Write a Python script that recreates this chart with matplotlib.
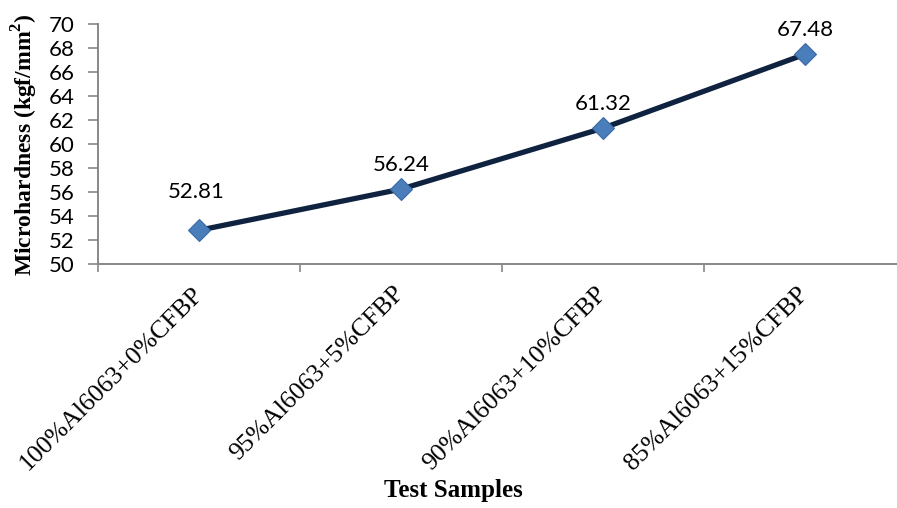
import matplotlib
matplotlib.use('Agg')  # headless backend
import matplotlib.pyplot as plt
from matplotlib.ticker import FixedLocator, NullFormatter

samples = ["100%Al6063+0%CFBP", "95%Al6063+5%CFBP",
           "90%Al6063+10%CFBP", "85%Al6063+15%CFBP"]
hardness = [52.81, 56.24, 61.32, 67.48]
y_ticks = list(range(50, 71, 2))

# per-point offset of the value labels (pixels)
label_offsets = [(-3, 38), (0, 24), (0, 24), (0, 24)]

plt.rcParams["mathtext.fontset"] = "custom"
plt.rcParams["mathtext.rm"] = "Liberation Serif:bold"
plt.rcParams["mathtext.bf"] = "Liberation Serif:bold"

fig = plt.figure(figsize=(8.97, 5.08), dpi=100)
ax = fig.add_axes([0.1093, 0.4803, 0.9008, 0.4725])

x = list(range(len(samples)))
ax.plot(x, hardness, color="#0f2240", lw=3.8, marker="D", markersize=11,
        markerfacecolor="#4a7ebb", markeredgecolor="#3a6aa5", markeredgewidth=0.8,
        solid_capstyle="round", zorder=3)

for xi, v, off in zip(x, hardness, label_offsets):
    ax.annotate(f"{v:.2f}", (xi, v), xytext=off, textcoords="offset pixels",
                ha="center", va="center", fontsize=16, family="Lato")

ax.set_xlim(-0.5, len(samples) - 0.5)
ax.set_ylim(50, 70)
ax.set_yticks(y_ticks)
ax.tick_params(axis="y", labelsize=16, length=7, width=1.2, color="#888888", pad=10)
for t in ax.get_yticklabels():
    t.set_family("Lato")

# boundary ticks on the category axis, labels at the centres
ax.xaxis.set_major_locator(FixedLocator([i - 0.5 for i in range(len(samples) + 1)]))
ax.xaxis.set_major_formatter(NullFormatter())
ax.xaxis.set_minor_locator(FixedLocator(x))
ax.set_xticklabels(samples, minor=True, rotation=45, ha="right", va="center",
                   rotation_mode="anchor", family="Liberation Serif", fontsize=18.5)
ax.tick_params(axis="x", which="major", length=6, width=1.2, color="#888888")
ax.tick_params(axis="x", which="minor", length=0, pad=19)

for side in ("top", "right"):
    ax.spines[side].set_visible(False)
for side in ("left", "bottom"):
    ax.spines[side].set_color("#888888")
    ax.spines[side].set_linewidth(1.4)

fig.text(0.028, 0.716, r"Microhardness (kgf/mm$^{2}$)", rotation=90, ha="center", va="center",
         family="Liberation Serif", fontweight="bold", fontsize=17)
fig.text(0.505, 0.035, "Test Samples", ha="center", va="center",
         family="Liberation Serif", fontweight="bold", fontsize=18)

fig.savefig("out.png", dpi=100)
plt.close(fig)
